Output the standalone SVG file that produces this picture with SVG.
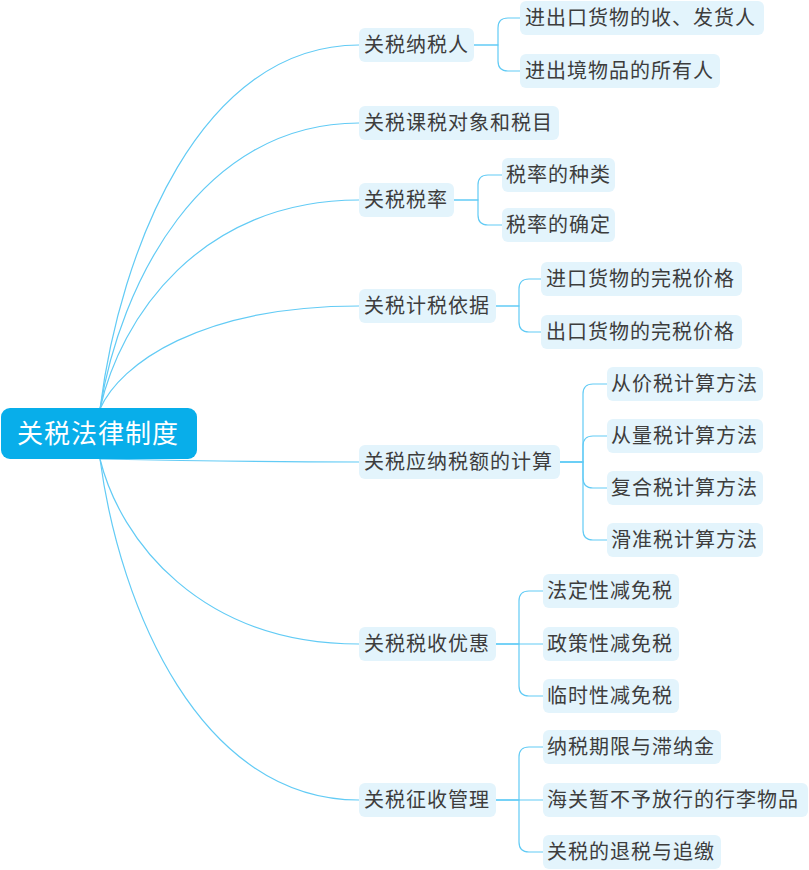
<svg xmlns="http://www.w3.org/2000/svg" width="809" height="870" viewBox="0 0 809 870">
<style>
.c{fill:none;stroke:#62cbf5;stroke-width:1.2}
.b{fill:#e3f4fc}
.t{font-family:"Noto Sans CJK SC","Noto Sans",sans-serif;font-size:20px;letter-spacing:1px;fill:#3d3d3d}
.rt{font-family:"Noto Sans CJK SC","Noto Sans",sans-serif;font-size:26px;letter-spacing:1px;fill:#ffffff}
</style>
<rect width="809" height="870" fill="#ffffff"/>
<g id="connectors">
<path class="c" d="M100,409 C120,250 200,45 359,45"/>
<path class="c" d="M100,409 C120,285 200,123 359,123"/>
<path class="c" d="M100,409 C120,318 200,200 359,200"/>
<path class="c" d="M100,409 C120,364 200,306 359,306"/>
<path class="c" d="M100,459 C150,460 250,462 359,462"/>
<path class="c" d="M100,459 C120,540 200,644 359,644"/>
<path class="c" d="M100,459 C120,608 200,800 359,800"/>
<path class="c" d="M474,45 H498 V28 Q498,18 508,18 H520"/>
<path class="c" d="M474,45 H498 V61 Q498,71 508,71 H520"/>
<path class="c" d="M454,200 H478 V185 Q478,175 488,175 H502"/>
<path class="c" d="M454,200 H478 V215 Q478,225 488,225 H502"/>
<path class="c" d="M496,306 H519 V289 Q519,279 529,279 H541"/>
<path class="c" d="M496,306 H519 V322 Q519,332 529,332 H541"/>
<path class="c" d="M560,462 H583 V394 Q583,384 593,384 H607"/>
<path class="c" d="M560,462 H583 V446 Q583,436 593,436 H607"/>
<path class="c" d="M560,462 H583 V478 Q583,488 593,488 H607"/>
<path class="c" d="M560,462 H583 V530 Q583,540 593,540 H607"/>
<path class="c" d="M496,644 H519 V601 Q519,591 529,591 H543"/>
<path class="c" d="M496,644 H543"/>
<path class="c" d="M496,644 H519 V686 Q519,696 529,696 H543"/>
<path class="c" d="M496,800 H519 V757 Q519,747 529,747 H543"/>
<path class="c" d="M496,800 H543"/>
<path class="c" d="M496,800 H519 V842 Q519,852 529,852 H543"/>
</g>
<g id="root"><rect x="1" y="408" width="196" height="51" rx="9" fill="#08aeea"/><text class="rt" x="17" y="443">关税法律制度</text></g>
<g id="n1"><rect class="b" x="359" y="28" width="115" height="34" rx="6"/><text class="t" x="364" y="52">关税纳税人</text></g>
<g id="n1a"><rect class="b" x="520" y="1" width="244" height="34" rx="6"/><text class="t" x="525" y="25">进出口货物的收、发货人</text></g>
<g id="n1b"><rect class="b" x="520" y="54" width="200" height="34" rx="6"/><text class="t" x="525" y="78">进出境物品的所有人</text></g>
<g id="n2"><rect class="b" x="359" y="106" width="200" height="34" rx="6"/><text class="t" x="364" y="130">关税课税对象和税目</text></g>
<g id="n3"><rect class="b" x="359" y="183" width="95" height="34" rx="6"/><text class="t" x="364" y="207">关税税率</text></g>
<g id="n3a"><rect class="b" x="502" y="158" width="113" height="34" rx="6"/><text class="t" x="506" y="182">税率的种类</text></g>
<g id="n3b"><rect class="b" x="502" y="208" width="113" height="34" rx="6"/><text class="t" x="506" y="232">税率的确定</text></g>
<g id="n4"><rect class="b" x="359" y="289" width="137" height="34" rx="6"/><text class="t" x="364" y="313">关税计税依据</text></g>
<g id="n4a"><rect class="b" x="541" y="262" width="201" height="34" rx="6"/><text class="t" x="546" y="286">进口货物的完税价格</text></g>
<g id="n4b"><rect class="b" x="541" y="315" width="201" height="34" rx="6"/><text class="t" x="546" y="339">出口货物的完税价格</text></g>
<g id="n5"><rect class="b" x="359" y="445" width="201" height="34" rx="6"/><text class="t" x="364" y="469">关税应纳税额的计算</text></g>
<g id="n5a"><rect class="b" x="607" y="367" width="156" height="34" rx="6"/><text class="t" x="611" y="391">从价税计算方法</text></g>
<g id="n5b"><rect class="b" x="607" y="419" width="156" height="34" rx="6"/><text class="t" x="611" y="443">从量税计算方法</text></g>
<g id="n5c"><rect class="b" x="607" y="471" width="156" height="34" rx="6"/><text class="t" x="611" y="495">复合税计算方法</text></g>
<g id="n5d"><rect class="b" x="607" y="523" width="156" height="34" rx="6"/><text class="t" x="611" y="547">滑准税计算方法</text></g>
<g id="n6"><rect class="b" x="359" y="627" width="137" height="34" rx="6"/><text class="t" x="364" y="651">关税税收优惠</text></g>
<g id="n6a"><rect class="b" x="543" y="574" width="136" height="34" rx="6"/><text class="t" x="547" y="598">法定性减免税</text></g>
<g id="n6b"><rect class="b" x="543" y="627" width="136" height="34" rx="6"/><text class="t" x="547" y="651">政策性减免税</text></g>
<g id="n6c"><rect class="b" x="543" y="679" width="136" height="34" rx="6"/><text class="t" x="547" y="703">临时性减免税</text></g>
<g id="n7"><rect class="b" x="359" y="783" width="137" height="34" rx="6"/><text class="t" x="364" y="807">关税征收管理</text></g>
<g id="n7a"><rect class="b" x="543" y="730" width="178" height="34" rx="6"/><text class="t" x="547" y="754">纳税期限与滞纳金</text></g>
<g id="n7b"><rect class="b" x="543" y="783" width="265" height="34" rx="6"/><text class="t" x="547" y="807">海关暂不予放行的行李物品</text></g>
<g id="n7c"><rect class="b" x="543" y="835" width="178" height="34" rx="6"/><text class="t" x="547" y="859">关税的退税与追缴</text></g>
</svg>
